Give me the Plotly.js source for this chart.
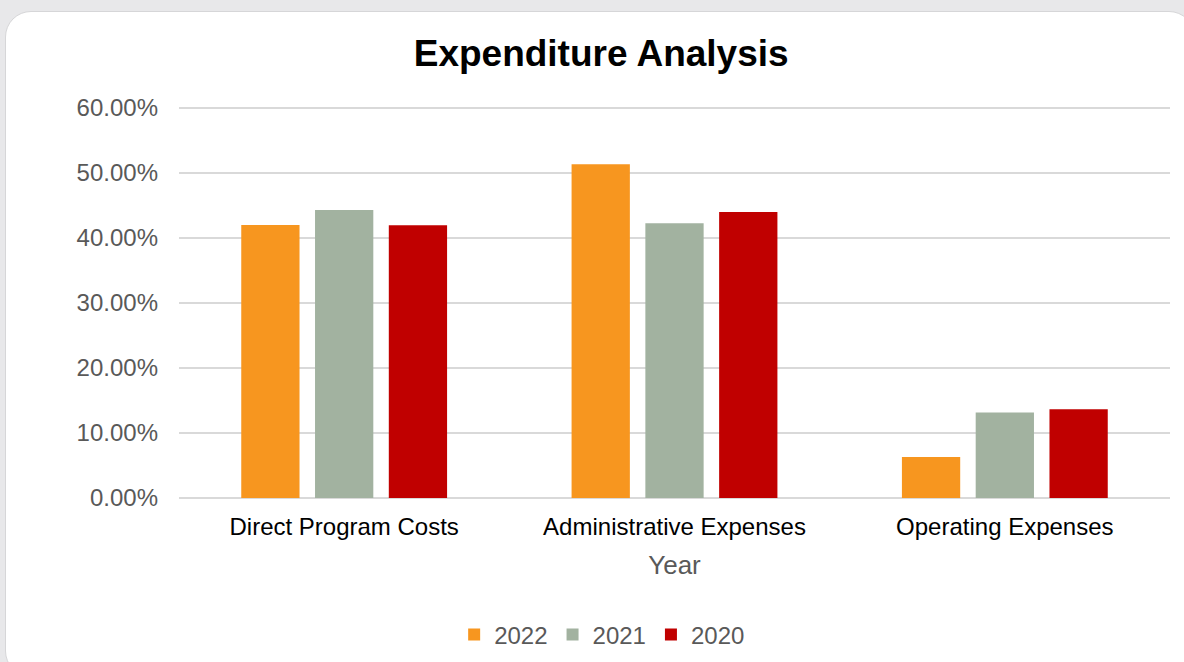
<!DOCTYPE html>
<html>
<head>
<meta charset="utf-8">
<script src="https://cdn.plot.ly/plotly-3.0.1.min.js"></script>
<style>
html,body{margin:0;padding:0;width:1184px;height:662px;overflow:hidden;background:#e8e8ea;}
#card{position:absolute;left:5px;top:11px;width:1190px;height:666px;background:#fff;border:1px solid #d6d6d8;border-radius:26px;box-sizing:border-box;}
#chart{position:absolute;left:0;top:0;width:1184px;height:662px;}
</style>
</head>
<body>
<div id="card"></div>
<div id="chart"></div>
<script>
var categories = ["Direct Program Costs", "Administrative Expenses", "Operating Expenses"];
var seriesNames = ["2022", "2021", "2020"];
var values2022 = [42.0, 51.35, 6.3];
var values2021 = [44.3, 42.25, 13.15];
var values2020 = [41.95, 44.0, 13.65];
var colors = ["#F7961F", "#A2B2A0", "#C00000"];
var yTicks = [0, 10, 20, 30, 40, 50, 60];

var allValues = [values2022, values2021, values2020];
var traces = seriesNames.map(function(n, i){
  return {type:'bar', name:n, x:categories, y:allValues[i], marker:{color:colors[i]}, hoverinfo:'none'};
});

var layout = {
  width:1184, height:662,
  paper_bgcolor:'rgba(0,0,0,0)', plot_bgcolor:'rgba(0,0,0,0)',
  margin:{l:179, r:14, t:106, b:164},
  barmode:'group', bargap:0.33, bargroupgap:0.21,
  font:{family:'Liberation Sans, Arial, sans-serif', color:'#595959'},
  title:{text:'<b>Expenditure Analysis</b>', font:{size:37, color:'#000', family:'Liberation Sans, Arial, sans-serif'}, x:0.426, xref:'paper', xanchor:'center', y:0.92, yref:'container', yanchor:'middle'},
  xaxis:{
    showgrid:false, zeroline:false, showline:false, ticks:'', automargin:false,
    tickfont:{size:24, color:'#000'}, ticklabelstandoff:12,
    title:{text:'Year', font:{size:26, color:'#595959'}, standoff:16}
  },
  yaxis:{
    range:[0,60.3], tickvals:yTicks, ticktext:yTicks.map(function(v){return v.toFixed(2)+'%';}), automargin:false,
    showgrid:true, gridcolor:'#d9d9d9', gridwidth:1.5, zeroline:true, zerolinecolor:'#d9d9d9', zerolinewidth:1.5, showline:false,
    tickfont:{size:24, color:'#595959'}, ticklabelstandoff:20
  },
  showlegend:true,
  legend:{orientation:'h', x:0.427, xanchor:'center', yref:'container', y:0.041, yanchor:'middle', font:{size:24, color:'#595959'}, itemwidth:30, tracegroupgap:0, itemclick:false}
};
Plotly.newPlot('chart', traces, layout, {staticPlot:true});
</script>
</body>
</html>
